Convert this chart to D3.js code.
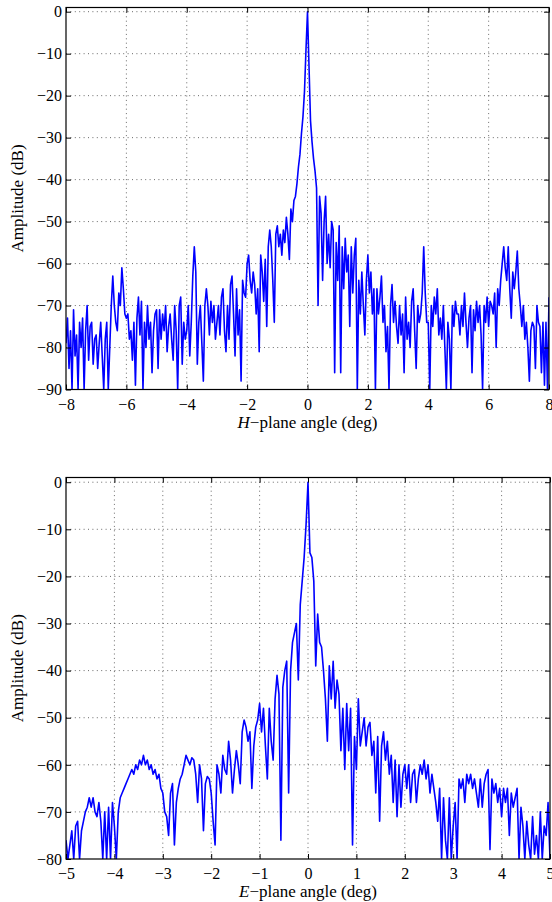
<!DOCTYPE html>
<html>
<head>
<meta charset="utf-8">
<script src="https://cdn.jsdelivr.net/npm/d3@7"></script>
<style>
    body { margin: 0; background: #fff; }
    svg { display: block; }
</style>
</head>
<body>
<svg id="chart" width="552" height="902"></svg>
<script>
// H-plane cut: one sample every 0.05 deg starting at -8 deg
var hStart = -8
var hStep = 0.05
var hAmplitude = [
    -79, -73, -85, -76, -90, -71, -82, -77, -90, -74, -80, -73, -90, -76, -70, -83, -75, -74, -84, -78,
    -77, -85, -79, -74, -82, -90, -78, -74, -90, -80, -70, -63, -70, -74, -76, -67, -70, -61, -66, -72,
    -73, -72, -78, -76, -83, -74, -89, -73, -68, -77, -69, -90, -74, -80, -70, -78, -74, -86, -76, -72,
    -71, -85, -71, -78, -72, -76, -70, -81, -75, -72, -78, -83, -70, -76, -90, -70, -68, -84, -74, -78,
    -76, -70, -82, -74, -63, -56, -62, -84, -74, -70, -79, -88, -70, -66, -70, -77, -69, -74, -70, -78,
    -74, -70, -77, -68, -66, -76, -81, -70, -78, -65, -63, -72, -82, -66, -77, -71, -88, -64, -67, -68,
    -60, -58, -64, -67, -62, -65, -72, -66, -81, -58, -62, -69, -59, -75, -56, -52, -56, -64, -74, -53,
    -51, -56, -53, -58, -52, -55, -49, -53, -59, -47, -50, -45, -44, -41, -37, -34, -29, -25, -19, -9,
    0, -13, -26, -31, -35, -38, -42, -70, -44, -48, -64, -50, -44, -60, -53, -61, -50, -52, -86, -55,
    -64, -51, -86, -56, -66, -54, -62, -58, -75, -56, -67, -58, -54, -90, -64, -72, -62, -70, -77, -64,
    -58, -67, -62, -72, -66, -90, -66, -72, -68, -63, -74, -70, -81, -75, -90, -70, -65, -74, -69, -75,
    -79, -70, -77, -72, -86, -68, -78, -74, -80, -69, -66, -76, -85, -70, -74, -72, -67, -56, -67, -74,
    -74, -90, -70, -75, -68, -72, -66, -77, -73, -78, -70, -80, -90, -74, -78, -90, -70, -75, -69, -72,
    -72, -77, -70, -75, -67, -74, -80, -73, -70, -86, -71, -76, -69, -74, -70, -77, -90, -70, -74, -68,
    -75, -69, -70, -72, -67, -80, -66, -70, -64, -60, -56, -61, -64, -56, -66, -73, -62, -66, -62, -57,
    -66, -70, -75, -70, -78, -74, -80, -88, -76, -74, -75, -85, -70, -74, -75, -86, -74, -89, -74, -90,
    -68
]
var hTicksX = [-8, -6, -4, -2, 0, 2, 4, 6, 8]
var hTicksY = [-90, -80, -70, -60, -50, -40, -30, -20, -10, 0]

// E-plane cut: one sample every 0.04 deg starting at -5 deg
var eStart = -5
var eStep = 0.04
var eAmplitude = [
    -76, -80, -77, -74, -80, -73, -72, -80, -74, -72, -70, -69, -67, -69, -67, -70, -71, -68, -72, -80, -70, -80, -69, -80, -68,
    -73, -80, -70, -67, -66, -65, -64, -63, -62, -61, -62, -60, -61, -59, -60, -58, -60, -59, -61, -60, -62, -61, -63, -62, -65,
    -66, -70, -71, -75, -66, -64, -77, -68, -65, -63, -62, -60, -58, -59, -60, -58.5, -59, -62, -68, -60, -63, -74, -64, -62.5, -63,
    -66, -72, -77, -60, -62, -66, -58, -61, -62, -55, -59, -66, -61, -57, -60, -64, -53, -50.5, -52, -55, -53, -65, -56, -52, -50.5,
    -47, -53, -48, -56, -63, -48, -55, -59, -46, -41, -45, -76, -43.5, -40, -38, -66, -40, -34, -32, -30, -42, -26, -21, -16, -9,
    0,
    -15, -16, -21, -39, -28, -34, -35, -40, -46, -55, -39, -46, -38, -48, -42, -45, -57, -48, -61, -47, -57, -48, -77, -54, -61,
    -46, -56, -53, -50, -56, -52, -51, -58, -55, -66, -54, -72, -56, -53, -59, -55, -62, -58, -68, -59, -71, -60, -69, -62, -60,
    -65, -60, -68, -62, -61, -68, -63, -60, -62, -59, -63, -60, -66, -62, -65, -68, -72, -65, -80, -67, -76, -80, -67, -80, -73,
    -68, -80, -63, -65, -63, -68, -62, -64, -62, -65, -63, -66, -69, -63, -69, -64, -62, -61, -78, -63, -66, -64, -68, -65, -71,
    -65, -68, -65, -75, -66, -69, -67, -65, -80, -69, -73, -80, -72, -77, -80, -71, -79, -75, -80, -70, -80, -73, -75, -68, -80
]
var eTicksX = [-5, -4, -3, -2, -1, 0, 1, 2, 3, 4, 5]
var eTicksY = [-80, -70, -60, -50, -40, -30, -20, -10, 0]

function dbPlot() {
    "use strict";

    var left = 66
    var right = 549
    var top = 8
    var bottom = 390
    var xDomain = [-8, 8]
    var yDomain = [-90, 1]
    var xTicks = []
    var yTicks = []
    var values = []
    var start = 0
    var step = 1
    var plane = "H"
    var tickLen = 5
    var font = "'Liberation Serif', 'Times New Roman', serif"
    var id = "p"

    function plot(selection) {
        selection.each(function() {
            var svg = d3.select(this)
            var x = d3.scaleLinear().domain(xDomain).range([left, right])
            var y = d3.scaleLinear().domain(yDomain).range([bottom, top])
            var g = svg.append("g").attr("class", "db-plot")

            g.append("clipPath").attr("id", "clip-" + id)
                .append("rect")
                .attr("x", left).attr("y", top)
                .attr("width", right - left).attr("height", bottom - top)

            // dotted grid
            var grid = g.append("g")
                .attr("stroke", "#444")
                .attr("stroke-width", 0.8)
                .attr("stroke-dasharray", "1,3.4")
            grid.selectAll("line.gx").data(xTicks.slice(1, -1)).enter()
                .append("line").attr("class", "gx")
                .attr("x1", x).attr("x2", x)
                .attr("y1", top).attr("y2", bottom)
            grid.selectAll("line.gy").data(yTicks.filter(function(d) {
                    return d !== yDomain[0]
                })).enter()
                .append("line").attr("class", "gy")
                .attr("x1", left).attr("x2", right)
                .attr("y1", y).attr("y2", y)

            var pts = values.map(function(v, i) {
                return [start + i * step, v]
            })
            var line = d3.line()
                .x(function(d) { return x(d[0]) })
                .y(function(d) { return y(d[1]) })
            g.append("path")
                .datum(pts)
                .attr("clip-path", "url(#clip-" + id + ")")
                .attr("fill", "none")
                .attr("stroke", "#0000ff")
                .attr("stroke-width", 1.6)
                .attr("stroke-linejoin", "round")
                .attr("d", line)

            // inward ticks on all four sides
            var fmt = d3.format("")
            var axB = g.append("g").attr("transform", "translate(0," + bottom + ")")
                .call(d3.axisBottom(x).tickValues(xTicks).tickFormat(fmt)
                    .tickSizeInner(-tickLen).tickSizeOuter(0))
            var axT = g.append("g").attr("transform", "translate(0," + top + ")")
                .call(d3.axisTop(x).tickValues(xTicks).tickFormat("")
                    .tickSizeInner(-tickLen).tickSizeOuter(0))
            var axL = g.append("g").attr("transform", "translate(" + left + ",0)")
                .call(d3.axisLeft(y).tickValues(yTicks).tickFormat(fmt)
                    .tickSizeInner(-tickLen).tickSizeOuter(0).tickPadding(4))
            var axR = g.append("g").attr("transform", "translate(" + right + ",0)")
                .call(d3.axisRight(y).tickValues(yTicks).tickFormat("")
                    .tickSizeInner(-tickLen).tickSizeOuter(0))

            ;[axB, axT, axL, axR].forEach(function(a) {
                a.select(".domain").remove()
                a.selectAll(".tick line").attr("stroke", "#000").attr("stroke-width", 1)
                a.attr("font-family", font).attr("font-size", 16)
            })
            axB.selectAll(".tick text").attr("y", 20).attr("dy", null).attr("fill", "#000")
            axL.selectAll(".tick text").attr("dy", "0.33em").attr("fill", "#000")

            g.append("rect")
                .attr("x", left).attr("y", top)
                .attr("width", right - left).attr("height", bottom - top)
                .attr("fill", "none").attr("stroke", "#000").attr("stroke-width", 1.2)

            var xl = g.append("text")
                .attr("x", (left + right) / 2)
                .attr("y", bottom + 38)
                .attr("text-anchor", "middle")
                .attr("font-family", font).attr("font-size", 17)
            xl.append("tspan").attr("font-style", "italic").text(plane)
            xl.append("tspan").text("\u2212plane angle (deg)")

            g.append("text")
                .attr("transform", "translate(23," + (top + bottom) / 2 + ") rotate(-90)")
                .attr("text-anchor", "middle")
                .attr("font-family", font).attr("font-size", 17)
                .text("Amplitude (dB)")
        })
    }

    plot.box = function(l, r, t, b) {
        left = l; right = r; top = t; bottom = b
        return plot
    }
    plot.xDomain = function(value) {
        if (!arguments.length) return xDomain
        xDomain = value
        return plot
    }
    plot.yDomain = function(value) {
        if (!arguments.length) return yDomain
        yDomain = value
        return plot
    }
    plot.ticks = function(xs, ys) {
        xTicks = xs; yTicks = ys
        return plot
    }
    plot.data = function(v, s, st) {
        values = v; start = s; step = st
        return plot
    }
    plot.plane = function(value) {
        if (!arguments.length) return plane
        plane = value
        return plot
    }
    plot.id = function(value) {
        id = value
        return plot
    }

    return plot
}

var svg = d3.select("#chart")

svg.call(dbPlot()
    .id("h")
    .box(66, 549, 7.5, 389.5)
    .xDomain([-8, 8]).yDomain([-90, 1])
    .ticks(hTicksX, hTicksY)
    .data(hAmplitude, hStart, hStep)
    .plane("H"))

svg.call(dbPlot()
    .id("e")
    .box(66, 550, 477.5, 859)
    .xDomain([-5, 5]).yDomain([-80, 1])
    .ticks(eTicksX, eTicksY)
    .data(eAmplitude, eStart, eStep)
    .plane("E"))
</script>
</body>
</html>
